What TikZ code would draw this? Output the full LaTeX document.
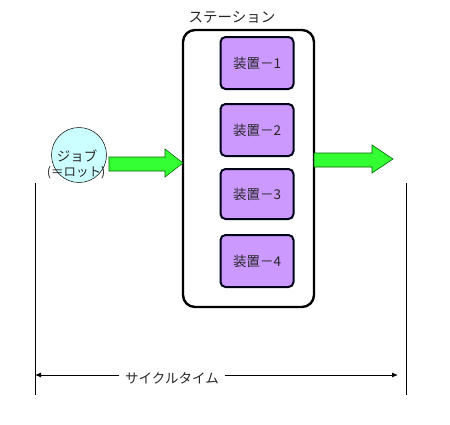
\documentclass[tikz,border=0pt]{standalone}
\usepackage{fontspec}
\newfontfamily\jp{Noto Sans CJK JP}
\usetikzlibrary{arrows.meta}
\definecolor{devfill}{HTML}{CC99FF}
\definecolor{jobfill}{HTML}{CCFFFF}
\definecolor{arrowgreen}{HTML}{33FF33}
\tikzset{
  jtext/.style={font=\jp\fontsize{13.5}{15}\selectfont, text=black!85},
  station/.style={draw=black, line width=2.4pt, rounded corners=12pt, fill=white},
  device/.style={draw=black!90!blue, line width=2pt, rounded corners=5pt, fill=devfill, jtext},
  bigarrow/.style={draw=green!40!black, line width=0.6pt, fill=arrowgreen},
  dimline/.style={draw=black, line width=0.9pt},
}
\begin{document}
\begin{tikzpicture}[x=1pt,y=-1pt]
\useasboundingbox[fill=white] (0,0) rectangle (450,424);
% station
\node[jtext, font=\jp\fontsize{14.5}{16}\selectfont] (stlabel) at (232,17) {ステーション};
\draw[station] (183,30) rectangle (314,307);
% devices
\node[device, minimum width=73pt, minimum height=52pt] (d1) at (257,63) {装置－1};
\node[device, minimum width=73pt, minimum height=52pt] (d2) at (257,130) {装置－2};
\node[device, minimum width=73pt, minimum height=50pt] (d3) at (257,194) {装置－3};
\node[device, minimum width=73pt, minimum height=52pt] (d4) at (257,261) {装置－4};
% job
\node[circle, draw=black, line width=0.5pt, fill=jobfill, minimum size=55pt, inner sep=0pt] (job) at (79,155) {};
\node[jtext] (jobtxt) at (77,156) {ジョブ};
\node[jtext, font=\jp\fontsize{12.5}{14}\selectfont] (lot) at (76,173) {(＝ロット)};
% input arrow
\draw[bigarrow] (109,157) -- (165,157) -- (165,149) -- (183,163) -- (165,177) -- (165,171) -- (109,171) -- cycle;
% output arrow
\draw[bigarrow] (314,153) -- (372,153) -- (372,145) -- (393,159) -- (372,173) -- (372,167) -- (314,167) -- cycle;
% dimension
\coordinate (lt) at (35,183);
\coordinate (lb) at (35,395);
\coordinate (rt) at (406,183);
\coordinate (rb) at (406,395);
\draw[dimline] (lt) -- (lb);
\draw[dimline] (rt) -- (rb);
\node[jtext, fill=white, inner xsep=6pt] (cyc) at (172,378) {サイクルタイム};
\coordinate (al) at (35,375);
\coordinate (ar) at (398,375);
\draw[dimline, -{Latex[length=6pt,width=5pt]}] (cyc.west |- al) -- (al);
\draw[dimline, -{Latex[length=6pt,width=5pt]}] (cyc.east |- ar) -- (ar);
\end{tikzpicture}
\end{document}
